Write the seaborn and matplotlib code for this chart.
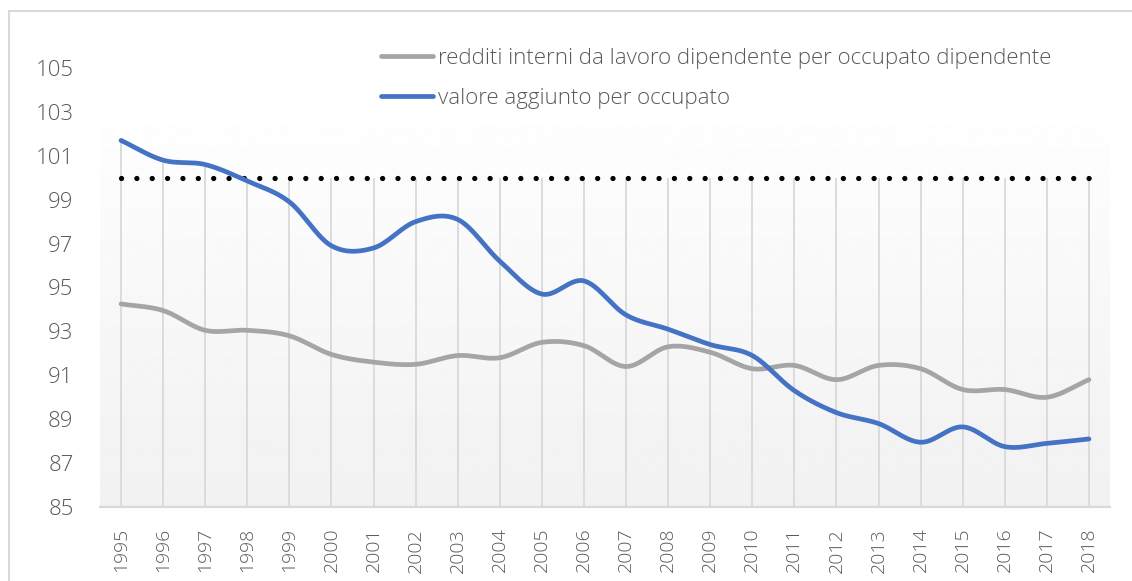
"""
Redditi da lavoro dipendente vs valore aggiunto per occupato (1995-2018)
"""
import numpy as np
import pandas as pd
import matplotlib
matplotlib.use("Agg")
import matplotlib.pyplot as plt
from matplotlib.patches import Rectangle
import seaborn as sns

# Data
years = list(range(1995, 2019))
redditi = [94.25, 93.95, 93.05, 93.05, 92.8, 91.95, 91.6, 91.5, 91.9, 91.8,
           92.5, 92.35, 91.4, 92.3, 92.05, 91.3, 91.45, 90.8, 91.45, 91.3,
           90.35, 90.35, 90.0, 90.8]
valore = [101.7, 100.8, 100.6, 99.85, 98.9, 96.9, 96.8, 98.0, 98.1, 96.2,
          94.7, 95.3, 93.75, 93.1, 92.4, 91.9, 90.3, 89.3, 88.8, 87.95,
          88.65, 87.75, 87.9, 88.1]
baseline = [100] * len(years)
label_redditi = "redditi interni da lavoro dipendente per occupato dipendente"
label_valore = "valore aggiunto per occupato"
y_ticks = list(range(85, 106, 2))

GRAY = "#a5a5a5"
BLUE = "#4472c4"
TEXT = "#595959"


def smooth(values, steps=30):
    """Catmull-Rom curve through the points, like Excel's smoothed line."""
    p = np.asarray(values, dtype=float)
    x = np.arange(len(p), dtype=float)
    px = np.concatenate([[2 * x[0] - x[1]], x, [2 * x[-1] - x[-2]]])
    py = np.concatenate([[2 * p[0] - p[1]], p, [2 * p[-1] - p[-2]]])
    xs, ys = [], []
    t = np.linspace(0, 1, steps, endpoint=False)
    for i in range(1, len(px) - 2):
        for arr, out in ((px, xs), (py, ys)):
            p0, p1, p2, p3 = arr[i - 1], arr[i], arr[i + 1], arr[i + 2]
            out.extend(0.5 * ((2 * p1) + (-p0 + p2) * t
                              + (2 * p0 - 5 * p1 + 4 * p2 - p3) * t ** 2
                              + (-p0 + 3 * p1 - 3 * p2 + p3) * t ** 3))
    xs.append(x[-1])
    ys.append(p[-1])
    return np.array(xs), np.array(ys)


sns.set_style("white")
plt.rcParams["font.family"] = ["Open Sans", "DejaVu Sans"]

fig = plt.figure(figsize=(11.32, 5.81), dpi=100)
ax = fig.add_axes([100 / 1132, 74 / 581, 1010 / 1132, 439 / 581])

# soft vertical gradient in the plot area
grad = np.linspace(0.945, 0.995, 256).reshape(-1, 1)
ax.imshow(grad, extent=(-0.5, len(years) - 0.5, 85, 102.4), origin="lower",
          cmap="gray", vmin=0, vmax=1, aspect="auto", zorder=0)

# drop lines from the highest point down to the axis
x_idx = np.arange(len(years))
tops = np.maximum.reduce([redditi, valore, baseline])
ax.vlines(x_idx, 85, tops, color="#d9d9d9", lw=1.3, zorder=1)

# reference line at 100
ax.plot(x_idx, baseline, color="black", lw=3.8,
        linestyle=(0, (0.01, 2.9)), dash_capstyle="round", zorder=2)

df = pd.DataFrame({"x": x_idx, "redditi": redditi, "valore": valore})
for col, color, label in (("redditi", GRAY, label_redditi),
                          ("valore", BLUE, label_valore)):
    sx, sy = smooth(df[col])
    sns.lineplot(x=sx, y=sy, ax=ax, color=color, lw=3.4, label=label,
                 sort=False, estimator=None, zorder=3)

ax.set_xlim(-0.5, len(years) - 0.5)
ax.set_ylim(85, 105)
ax.set_xticks(x_idx)
ax.set_xticklabels([str(y) for y in years], rotation=90)
ax.set_yticks(y_ticks)
ax.tick_params(axis="both", length=0, colors=TEXT)
ax.tick_params(axis="y", pad=19, labelsize=16)
ax.tick_params(axis="x", pad=15, labelsize=14)
for lbl in ax.get_xticklabels() + ax.get_yticklabels():
    lbl.set_fontweight("light")
ax.set_xlabel("")
ax.set_ylabel("")
for side in ("top", "right", "left"):
    ax.spines[side].set_visible(False)
ax.spines["bottom"].set_color("#d9d9d9")
ax.spines["bottom"].set_linewidth(1.5)

leg = ax.legend(loc="upper left", bbox_to_anchor=(381 / 1132, 1 - 48 / 581),
                bbox_transform=fig.transFigure, frameon=False, fontsize=16,
                handlelength=2.35, handletextpad=0.22, labelspacing=0.85,
                borderpad=0, borderaxespad=0)
for txt in leg.get_texts():
    txt.set_color(TEXT)
    txt.set_fontweight("light")

# chart border
fig.patches.append(Rectangle((9 / 1132, -0.1), 1.2, (581 - 11) / 581 + 0.1,
                             transform=fig.transFigure, fill=False,
                             edgecolor="#d9d9d9", lw=1.5))

fig.savefig("out.png", dpi=100)
